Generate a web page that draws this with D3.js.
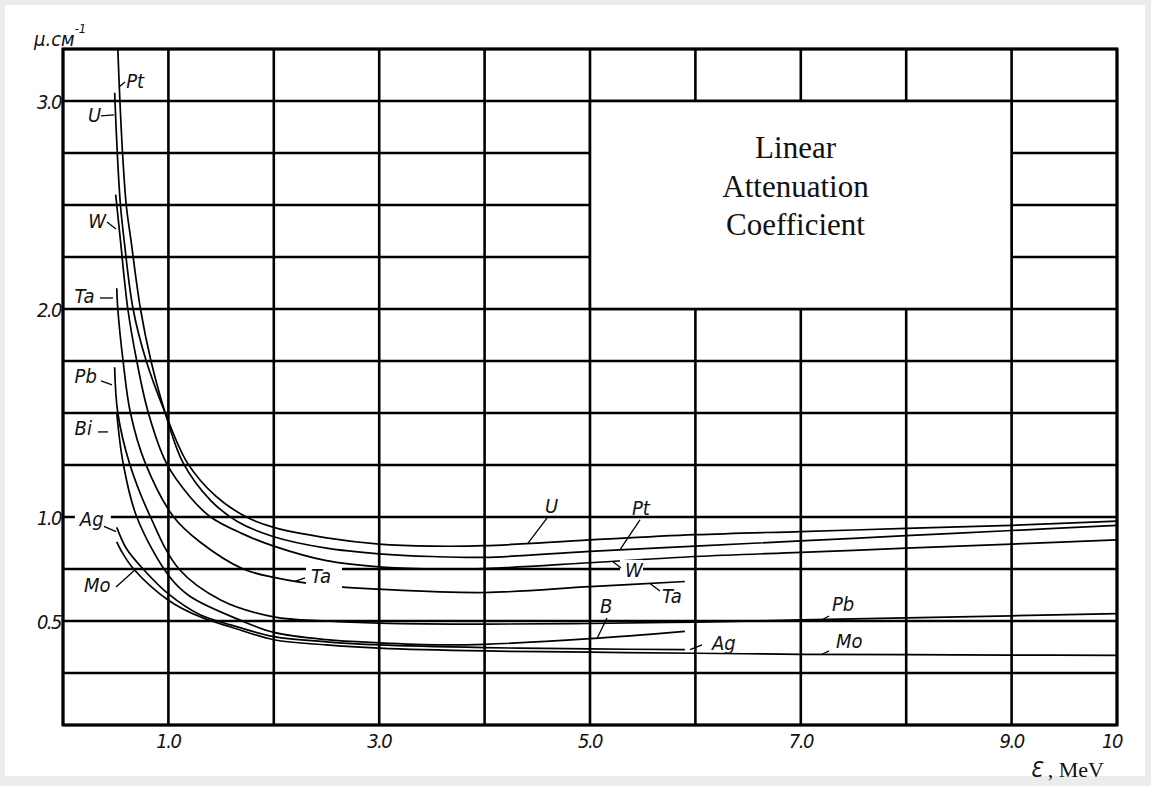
<!DOCTYPE html>
<html>
<head>
<meta charset="utf-8">
<script src="https://cdn.jsdelivr.net/npm/d3@7/dist/d3.min.js"></script>
<style>
  body { margin: 0; background: #ececec; }
  svg { display: block; }
  .hand { font-family: "DejaVu Sans Condensed", "DejaVu Sans", sans-serif; font-style: oblique; fill: #111; }
</style>
</head>
<body>
<div id="vis"></div>
<script>
// Datos leidos a ojo del grafico escaneado (E en MeV, mu en 1/cm)
const U_E   = [0.49, 0.515, 0.545, 0.58, 0.665, 0.79, 0.97, 1.18, 1.45, 1.74, 2.0, 2.5, 3.0, 3.5, 4.0, 5.0, 6.0, 7.0, 8.0, 9.0, 10.0];
const U_MU  = [3.04, 2.75, 2.50, 2.33, 2.00, 1.75, 1.50, 1.26, 1.10, 1.00, 0.95, 0.90, 0.87, 0.86, 0.862, 0.89, 0.915, 0.93, 0.945, 0.96, 0.98];

const PT_E  = [0.52, 0.54, 0.565, 0.60, 0.645, 0.735, 0.835, 0.97, 1.14, 1.40, 1.65, 2.0, 2.5, 3.0, 3.5, 4.0, 5.0, 6.0, 7.0, 8.0, 9.0, 10.0];
const PT_MU = [3.25, 3.00, 2.75, 2.50, 2.33, 2.00, 1.75, 1.50, 1.26, 1.08, 0.98, 0.905, 0.85, 0.823, 0.81, 0.806, 0.835, 0.86, 0.885, 0.91, 0.935, 0.96];

const W_E   = [0.50, 0.51, 0.545, 0.615, 0.70, 0.81, 0.98, 1.2, 1.4, 1.7, 2.0, 2.5, 3.0, 3.5, 4.0, 5.0, 6.0, 7.0, 8.0, 9.0, 10.0];
const W_MU  = [2.55, 2.50, 2.33, 2.00, 1.75, 1.50, 1.26, 1.10, 1.00, 0.92, 0.86, 0.79, 0.76, 0.75, 0.752, 0.78, 0.81, 0.83, 0.85, 0.87, 0.89];

const TA_E  = [0.51, 0.52, 0.57, 0.64, 0.78, 1.05, 1.3, 1.71, 2.0, 2.5, 3.0, 4.0, 5.0, 5.9];
const TA_MU = [2.10, 2.00, 1.75, 1.50, 1.26, 1.00, 0.88, 0.75, 0.71, 0.67, 0.653, 0.637, 0.665, 0.69];

const PB_E  = [0.49, 0.52, 0.63, 0.83, 1.1, 1.5, 2.0, 2.5, 3.0, 4.0, 5.0, 6.0, 7.0, 8.0, 9.0, 10.0];
const PB_MU = [1.72, 1.50, 1.26, 1.00, 0.75, 0.60, 0.52, 0.50, 0.49, 0.485, 0.488, 0.495, 0.505, 0.515, 0.525, 0.535];

const BI_E  = [0.51, 0.57, 0.70, 1.0, 1.2, 1.7, 2.0, 2.5, 3.0, 3.6, 4.0, 5.0, 5.9];
const BI_MU = [1.50, 1.26, 1.00, 0.72, 0.62, 0.50, 0.445, 0.41, 0.395, 0.385, 0.388, 0.415, 0.45];

const AG_E  = [0.51, 0.60, 0.76, 1.0, 1.3, 1.6, 2.0, 2.5, 3.0, 4.0, 5.0, 5.9];
const AG_MU = [0.95, 0.85, 0.75, 0.63, 0.53, 0.48, 0.425, 0.40, 0.385, 0.372, 0.366, 0.362];

const MO_E  = [0.51, 0.55, 0.67, 1.0, 1.3, 1.6, 2.0, 2.5, 3.0, 4.0, 5.0, 6.0, 7.0, 8.0, 9.0, 10.0];
const MO_MU = [0.88, 0.84, 0.75, 0.60, 0.52, 0.47, 0.41, 0.385, 0.37, 0.356, 0.35, 0.345, 0.34, 0.338, 0.336, 0.335];

// ticks
const X_TICKS = [1, 3, 5, 7, 9, 10];
const X_TICK_LABELS = ["1.0", "3.0", "5.0", "7.0", "9.0", "10"];
const Y_TICKS = [3, 2, 1, 0.5];
const Y_TICK_LABELS = ["3.0", "2.0", "1.0", "0.5"];

const TITLE_LINES = ["Linear", "Attenuation", "Coefficient"];

// ---------------------------------------------------------------------
const SVG_WIDTH = 1151;
const SVG_HEIGHT = 786;
const MARGIN = { top: 49, left: 63, right: 34, bottom: 61 };

const SVG = d3.select("#vis").append("svg")
  .attr("width", SVG_WIDTH)
  .attr("height", SVG_HEIGHT);

// papel blanco con borde gris del escaneo
SVG.append("rect").attr("x", 0).attr("y", 0).attr("width", SVG_WIDTH).attr("height", SVG_HEIGHT).attr("fill", "#ececec");
SVG.append("rect").attr("x", 5).attr("y", 5).attr("width", 1140).attr("height", 771).attr("fill", "#fff");

const x = d3.scaleLinear().domain([0, 10]).range([MARGIN.left, SVG_WIDTH - MARGIN.right]);
const y = d3.scaleLinear().domain([0, 3.25]).range([SVG_HEIGHT - MARGIN.bottom, MARGIN.top]);

const grid = SVG.append("g").attr("stroke", "#000").attr("stroke-width", 2.6);

// grid vertical (cada 1 MeV) y horizontal (cada 0.25)
grid.selectAll("line.v")
  .data(d3.range(0, 11))
  .join("line")
  .attr("class", "v")
  .attr("x1", d => x(d)).attr("x2", d => x(d))
  .attr("y1", y(3.25)).attr("y2", y(0));

grid.selectAll("line.h")
  .data(d3.range(0, 14).map(i => i * 0.25))
  .join("line")
  .attr("class", "h")
  .attr("x1", x(0)).attr("x2", x(10))
  .attr("y1", d => y(d)).attr("y2", d => y(d));

// recuadro del titulo
SVG.append("rect")
  .attr("x", x(5)).attr("y", y(3))
  .attr("width", x(9) - x(5)).attr("height", y(2) - y(3))
  .attr("fill", "#fff").attr("stroke", "#000").attr("stroke-width", 2.6);

SVG.append("g")
  .selectAll("text")
  .data(TITLE_LINES)
  .join("text")
  .attr("x", x(6.95))
  .attr("y", (d, i) => y(3) + 57 + i * 38.5)
  .attr("text-anchor", "middle")
  .style("font-family", "'Liberation Serif', 'Times New Roman', serif")
  .style("font-size", "31px")
  .attr("fill", "#111")
  .text(d => d);

// curvas
const curves = [
  { name: "U", e: U_E, mu: U_MU },
  { name: "Pt", e: PT_E, mu: PT_MU },
  { name: "W", e: W_E, mu: W_MU },
  { name: "Ta", e: TA_E, mu: TA_MU },
  { name: "Pb", e: PB_E, mu: PB_MU },
  { name: "Bi", e: BI_E, mu: BI_MU },
  { name: "Ag", e: AG_E, mu: AG_MU },
  { name: "Mo", e: MO_E, mu: MO_MU },
];

SVG.append("clipPath").attr("id", "clip")
  .append("rect")
  .attr("x", x(0)).attr("y", y(3.25))
  .attr("width", x(10) - x(0)).attr("height", y(0) - y(3.25));

// catmull-rom centripeta: va bien en los tramos casi verticales
const line = d3.line()
  .x(d => x(d[0]))
  .y(d => y(d[1]))
  .curve(d3.curveCatmullRom.alpha(0.5));

SVG.append("g")
  .attr("clip-path", "url(#clip)")
  .selectAll("path")
  .data(curves)
  .join("path")
  .attr("d", c => line(c.e.map((e, i) => [e, c.mu[i]])))
  .attr("fill", "none")
  .attr("stroke", "#000")
  .attr("stroke-width", 1.7);

// etiquetas de las curvas: [texto, E, mu, leader E1, mu1, E2, mu2, tapar grid]
const LABELS = [
  ["Pt", 0.6, 3.063, 0.588, 3.091, 0.531, 3.067, false],
  ["U", 0.237, 2.899, 0.361, 2.928, 0.484, 2.933, false],
  ["W", 0.24, 2.389, 0.417, 2.418, 0.503, 2.385, false],
  ["Ta", 0.11, 2.029, 0.351, 2.053, 0.474, 2.053, false],
  ["Pb", 0.11, 1.644, 0.361, 1.654, 0.465, 1.635, false],
  ["Bi", 0.11, 1.394, 0.332, 1.409, 0.427, 1.409, false],
  ["Ag", 0.16, 0.955, 0.389, 0.955, 0.503, 0.93, true],
  ["Mo", 0.2, 0.639, 0.503, 0.663, 0.674, 0.742, false],
  ["U", 4.573, 1.019, 4.592, 0.995, 4.412, 0.874, false],
  ["Pt", 5.398, 1.010, 5.474, 0.986, 5.285, 0.843, false],
  ["W", 5.332, 0.712, 5.294, 0.755, 5.218, 0.785, true],
  ["Ta", 2.353, 0.683, 2.296, 0.707, 2.201, 0.69, true],
  ["Ta", 5.683, 0.587, 5.664, 0.644, 5.569, 0.68, false],
  ["B", 5.095, 0.538, 5.161, 0.514, 5.066, 0.415, false],
  ["Ag", 6.157, 0.361, 6.063, 0.385, 5.949, 0.362, false],
  ["Pb", 7.296, 0.548, 7.268, 0.524, 7.201, 0.506, false],
  ["Mo", 7.334, 0.371, 7.268, 0.356, 7.201, 0.34, false],
];

const lab = SVG.append("g");

lab.selectAll("rect")
  .data(LABELS.filter(d => d[7]))
  .join("rect")
  .attr("x", d => x(d[1]) - 5)
  .attr("y", d => y(d[2]) - 17)
  .attr("width", d => d[0].length * 13 + 10)
  .attr("height", 22)
  .attr("fill", "#fff");

lab.selectAll("line")
  .data(LABELS)
  .join("line")
  .attr("x1", d => x(d[3])).attr("y1", d => y(d[4]))
  .attr("x2", d => x(d[5])).attr("y2", d => y(d[6]))
  .attr("stroke", "#000").attr("stroke-width", 1.3);

lab.selectAll("text")
  .data(LABELS)
  .join("text")
  .attr("class", "hand")
  .attr("x", d => x(d[1]))
  .attr("y", d => y(d[2]))
  .style("font-size", "20px")
  .text(d => d[0]);

// ticks del eje
SVG.append("g")
  .selectAll("text")
  .data(X_TICKS)
  .join("text")
  .attr("class", "hand")
  .attr("x", d => x(d) - (d === 10 ? 5 : 0))
  .attr("y", y(0) + 23)
  .attr("text-anchor", "middle")
  .style("font-size", "20px")
  .style("letter-spacing", "-1.5px")
  .text((d, i) => X_TICK_LABELS[i]);

SVG.append("g")
  .selectAll("text")
  .data(Y_TICKS)
  .join("text")
  .attr("class", "hand")
  .attr("x", x(0) - 2)
  .attr("y", d => y(d) + 8)
  .attr("text-anchor", "end")
  .style("font-size", "20px")
  .style("letter-spacing", "-1.5px")
  .text((d, i) => Y_TICK_LABELS[i]);

// titulo eje y
const yt = SVG.append("text")
  .attr("class", "hand")
  .attr("x", 34).attr("y", 46)
  .style("font-size", "20px");
yt.append("tspan").text("μ.см");
yt.append("tspan").attr("dy", -13).style("font-size", "13px").text("-1");

// titulo eje x
const xt = SVG.append("text")
  .attr("x", 1030).attr("y", 777);
xt.append("tspan")
  .attr("class", "hand")
  .style("font-size", "22px")
  .text("Ɛ");
xt.append("tspan")
  .style("font-family", "'Liberation Serif', 'Times New Roman', serif")
  .style("font-size", "22px")
  .attr("fill", "#111")
  .text(" , MeV");

// marco
SVG.append("rect")
  .attr("x", x(0)).attr("y", y(3.25))
  .attr("width", x(10) - x(0)).attr("height", y(0) - y(3.25))
  .attr("fill", "none").attr("stroke", "#000").attr("stroke-width", 3);
</script>
</body>
</html>
